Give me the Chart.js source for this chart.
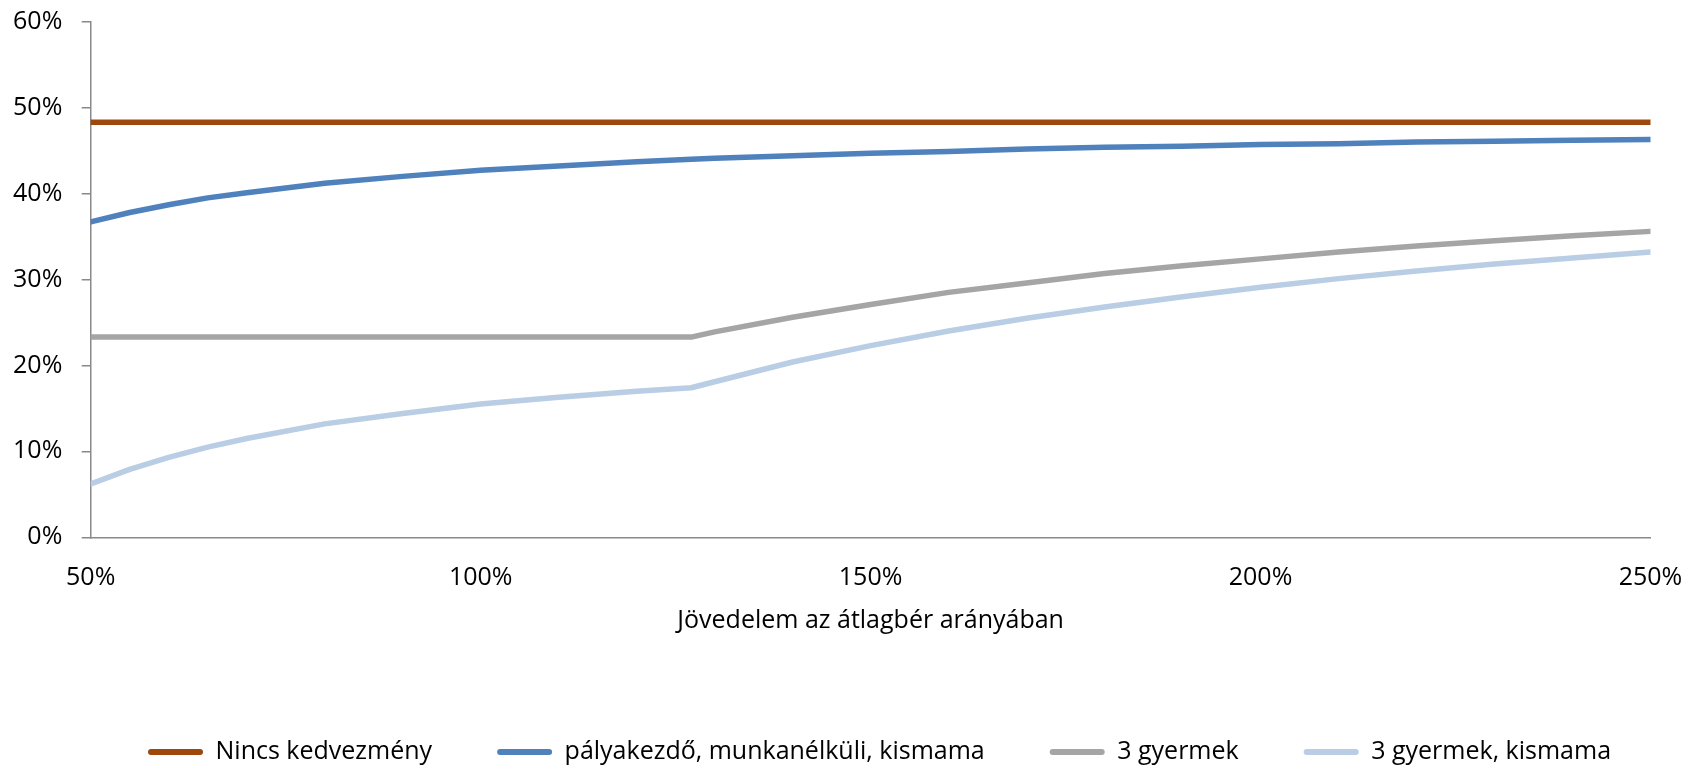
<!DOCTYPE html>
<html>
<head>
<meta charset="utf-8">
<script src="https://cdn.jsdelivr.net/npm/chart.js@4.4.1/dist/chart.umd.min.js"></script>
<style>
  body { margin: 0; background: #fff; }
  #wrap { width: 1687px; height: 767px; }
</style>
</head>
<body>
<div id="wrap"><canvas id="grafico"></canvas></div>
<script>
// jövedelem az átlagbér arányában (%)
const jovedelem = [50, 55, 60, 65, 70, 80, 90, 100, 110, 120, 127, 130, 140, 150, 160, 170, 180, 190, 200, 210, 220, 230, 240, 250];

const nincsKedvezmeny = [48.3, 48.3, 48.3, 48.3, 48.3, 48.3, 48.3, 48.3, 48.3, 48.3, 48.3, 48.3, 48.3, 48.3, 48.3, 48.3, 48.3, 48.3, 48.3, 48.3, 48.3, 48.3, 48.3, 48.3];
const palyakezdo = [36.7, 37.8, 38.7, 39.5, 40.1, 41.2, 42.0, 42.7, 43.2, 43.7, 44.0, 44.1, 44.4, 44.7, 44.9, 45.2, 45.4, 45.5, 45.7, 45.8, 46.0, 46.1, 46.2, 46.3];
const haromGyermek = [23.3, 23.3, 23.3, 23.3, 23.3, 23.3, 23.3, 23.3, 23.3, 23.3, 23.3, 23.9, 25.6, 27.1, 28.5, 29.6, 30.7, 31.6, 32.4, 33.2, 33.9, 34.5, 35.1, 35.6];
const haromGyermekKismama = [6.2, 7.9, 9.3, 10.5, 11.5, 13.2, 14.4, 15.5, 16.3, 17.0, 17.4, 18.1, 20.4, 22.3, 24.0, 25.5, 26.8, 28.0, 29.1, 30.1, 31.0, 31.8, 32.5, 33.2];

const xTicks = [50, 100, 150, 200, 250];
const yTicks = [0, 10, 20, 30, 40, 50, 60];

const sorozatok = [
  { nev: "Nincs kedvezmény", adat: nincsKedvezmeny, szin: "#9E480E" },
  { nev: "pályakezdő, munkanélküli, kismama", adat: palyakezdo, szin: "#4F81BD" },
  { nev: "3 gyermek", adat: haromGyermek, szin: "#A5A5A5" },
  { nev: "3 gyermek, kismama", adat: haromGyermekKismama, szin: "#B9CDE5" },
];

Chart.defaults.font.family = "'Open Sans', sans-serif";
Chart.defaults.font.size = 25;
Chart.defaults.color = "#000";

// a jelmagyarázat balra tolva, mint az eredetin
const legendEltolas = {
  id: "legendEltolas",
  afterLayout(chart) {
    chart.legend.left = 83;
  },
};

const ctx = document.getElementById("grafico").getContext("2d");
new Chart(ctx, {
  type: "line",
  data: {
    datasets: sorozatok.map((s) => ({
      label: s.nev,
      data: jovedelem.map((x, i) => ({ x: x, y: s.adat[i] })),
      borderColor: s.szin,
      backgroundColor: s.szin,
      borderWidth: 5.5,
      borderCapStyle: "round",
      borderJoinStyle: "round",
      pointRadius: 0,
      tension: 0,
    })),
  },
  plugins: [legendEltolas],
  options: {
    responsive: true,
    maintainAspectRatio: false,
    animation: false,
    layout: { padding: { left: 0, right: 0, top: 21.7, bottom: -7.5 } },
    plugins: {
      tooltip: { enabled: false },
      legend: {
        position: "bottom",
        align: "start",
        labels: {
          boxWidth: 55,
          boxHeight: 6,
          padding: 65,
          generateLabels: (chart) =>
            Chart.defaults.plugins.legend.labels.generateLabels(chart).map((l) => ({
              ...l,
              fillStyle: l.strokeStyle,
              lineWidth: 0,
              borderRadius: 3,
            })),
        },
      },
    },
    scales: {
      x: {
        type: "linear",
        min: 50,
        max: 250,
        afterBuildTicks: (axis) => { axis.ticks = xTicks.map((v) => ({ value: v })); },
        afterFit: (axis) => {
          axis.height = 137.2;
          axis.paddingLeft = 0;
          axis.paddingRight = 36.5;
        },
        ticks: { padding: 26, maxRotation: 0, callback: (v) => v + "%" },
        grid: { display: false, drawTicks: false },
        border: { display: true, color: "#898989", width: 1.5 },
        title: {
          display: true,
          text: "Jövedelem az átlagbér arányában",
          padding: { top: 5, bottom: 38.5 },
        },
      },
      y: {
        min: 0,
        max: 60,
        afterBuildTicks: (axis) => { axis.ticks = yTicks.map((v) => ({ value: v })); },
        afterFit: (axis) => {
          axis.width = 90.7;
          axis.paddingTop = 0;
          axis.paddingBottom = 0;
        },
        ticks: { padding: 19.4, callback: (v) => v + "%" },
        grid: { drawOnChartArea: false, drawTicks: true, tickLength: 9, color: "#898989", lineWidth: 1.5 },
        border: { display: true, color: "#898989", width: 1.5 },
      },
    },
  },
});
</script>
</body>
</html>
